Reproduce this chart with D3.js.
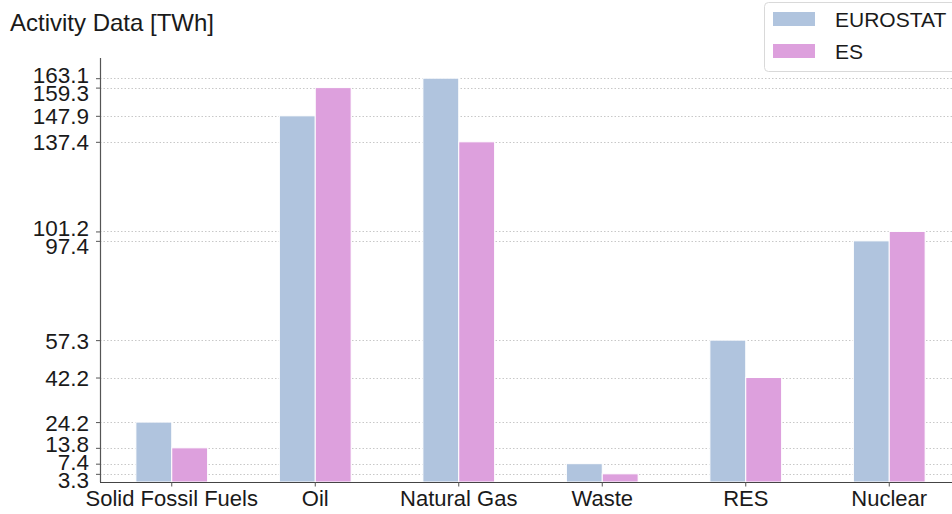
<!DOCTYPE html>
<html>
<head>
<meta charset="utf-8">
<script src="https://cdn.jsdelivr.net/npm/d3@7"></script>
<style>
  html, body { margin: 0; padding: 0; background: #fff; }
  svg { display: block; font-family: "Liberation Sans", Arial, sans-serif; }
</style>
</head>
<body>
<svg id="chart" width="952" height="514"></svg>
<script>
// Activity data by fuel category, two sources
const categories = ["Solid Fossil Fuels", "Oil", "Natural Gas", "Waste", "RES", "Nuclear"];
const seriesNames = ["EUROSTAT", "ES"];
const eurostat = [24.2, 147.9, 163.1, 7.4, 57.3, 97.4];
const es = [13.8, 159.3, 137.4, 3.3, 42.2, 101.2];
const seriesColors = ["#b0c4de", "#dda0dd"];
const yTickValues = [3.3, 7.4, 13.8, 24.2, 42.2, 57.3, 97.4, 101.2, 137.4, 147.9, 159.3, 163.1];

const series = [eurostat, es];
const svg = d3.select("#chart");
const textColor = "#1a1a1a";
const fontFamily = "Liberation Sans, Arial, sans-serif";

const plotLeft = 100, plotBottom = 482, plotTop = 58;
const step = 143.5;

const x = d3.scaleBand()
  .domain(categories)
  .range([plotLeft, plotLeft + step * categories.length])
  .padding(0);

const yMax = d3.max(series.flat()) * 1.05;
const y = d3.scaleLinear().domain([0, yMax]).range([plotBottom, plotTop]);

const barW = x.bandwidth() * 0.25;

// horizontal dotted grid at each tick value
svg.append("g")
  .selectAll("line")
  .data(yTickValues)
  .join("line")
  .attr("x1", plotLeft)
  .attr("x2", 952)
  .attr("y1", d => Math.round(y(d)) + 0.5)
  .attr("y2", d => Math.round(y(d)) + 0.5)
  .attr("stroke", "#c8c8c8")
  .attr("stroke-width", 1)
  .attr("stroke-dasharray", "1.5,2");

// bars
series.forEach((vals, si) => {
  svg.append("g")
    .selectAll("rect")
    .data(categories)
    .join("rect")
    .attr("x", (c) => x(c) + x.bandwidth() / 2 + (si - 1) * barW)
    .attr("y", (c, i) => y(vals[i]))
    .attr("width", barW)
    .attr("height", (c, i) => y(0) - y(vals[i]))
    .attr("fill", seriesColors[si])
    .attr("stroke", "#fff")
    .attr("stroke-width", 1);
});

// y axis
const yAxis = svg.append("g")
  .attr("transform", `translate(${plotLeft},0)`)
  .call(d3.axisLeft(y).tickValues(yTickValues).tickFormat(d3.format(".1f")).tickSize(4).tickPadding(7));
yAxis.select(".domain").attr("stroke", "#555").attr("stroke-width", 1.2)
  .attr("d", `M0.5,${plotTop}V${plotBottom}`);
yAxis.selectAll(".tick line").attr("stroke", "#555");

// spread crowded tick labels apart so neighbouring values stay legible
const minGap = 18;
const labelPos = new Map(yTickValues.map(v => [v, y(v)]));
const ordered = yTickValues.slice().sort((a, b) => y(a) - y(b)); // top to bottom
for (let iter = 0; iter < 300; iter++) {
  let moved = false;
  for (let i = 0; i < ordered.length - 1; i++) {
    const a = ordered[i], b = ordered[i + 1];
    const gap = labelPos.get(b) - labelPos.get(a);
    if (gap < minGap - 0.01) {
      const push = (minGap - gap) / 2;
      labelPos.set(a, labelPos.get(a) - push);
      labelPos.set(b, labelPos.get(b) + push);
      moved = true;
    }
  }
  if (!moved) break;
}
yAxis.selectAll(".tick text")
  .attr("font-size", 22.5).attr("fill", textColor)
  .attr("font-family", fontFamily).attr("dy", "0.36em")
  .attr("y", d => labelPos.get(d) - y(d));

// x axis
const xAxis = svg.append("g")
  .attr("transform", `translate(0,${plotBottom})`)
  .call(d3.axisBottom(x).tickSize(4.5));
xAxis.select(".domain").attr("stroke", "#444").attr("stroke-width", 1.2)
  .attr("d", `M${plotLeft},0.5H952`);
xAxis.selectAll(".tick line").attr("stroke", "#555");
xAxis.selectAll("text").attr("font-size", 22).attr("fill", textColor)
  .attr("font-family", fontFamily).attr("y", 24).attr("dy", 0);

// title
svg.append("text")
  .attr("x", 10)
  .attr("y", 31)
  .attr("font-size", 24)
  .attr("fill", textColor)
  .text("Activity Data [TWh]");

// legend
const lg = svg.append("g");
lg.append("rect")
  .attr("x", 764.5).attr("y", 2.5)
  .attr("width", 200).attr("height", 69)
  .attr("rx", 4)
  .attr("fill", "#fff")
  .attr("stroke", "#d9d9d9");
seriesNames.forEach((name, i) => {
  lg.append("rect")
    .attr("x", 773).attr("y", 12 + i * 32)
    .attr("width", 42).attr("height", 14)
    .attr("fill", seriesColors[i]);
  lg.append("text")
    .attr("x", 835).attr("y", 27 + i * 32)
    .attr("font-size", 21)
    .attr("fill", textColor)
    .text(name);
});
</script>
</body>
</html>
